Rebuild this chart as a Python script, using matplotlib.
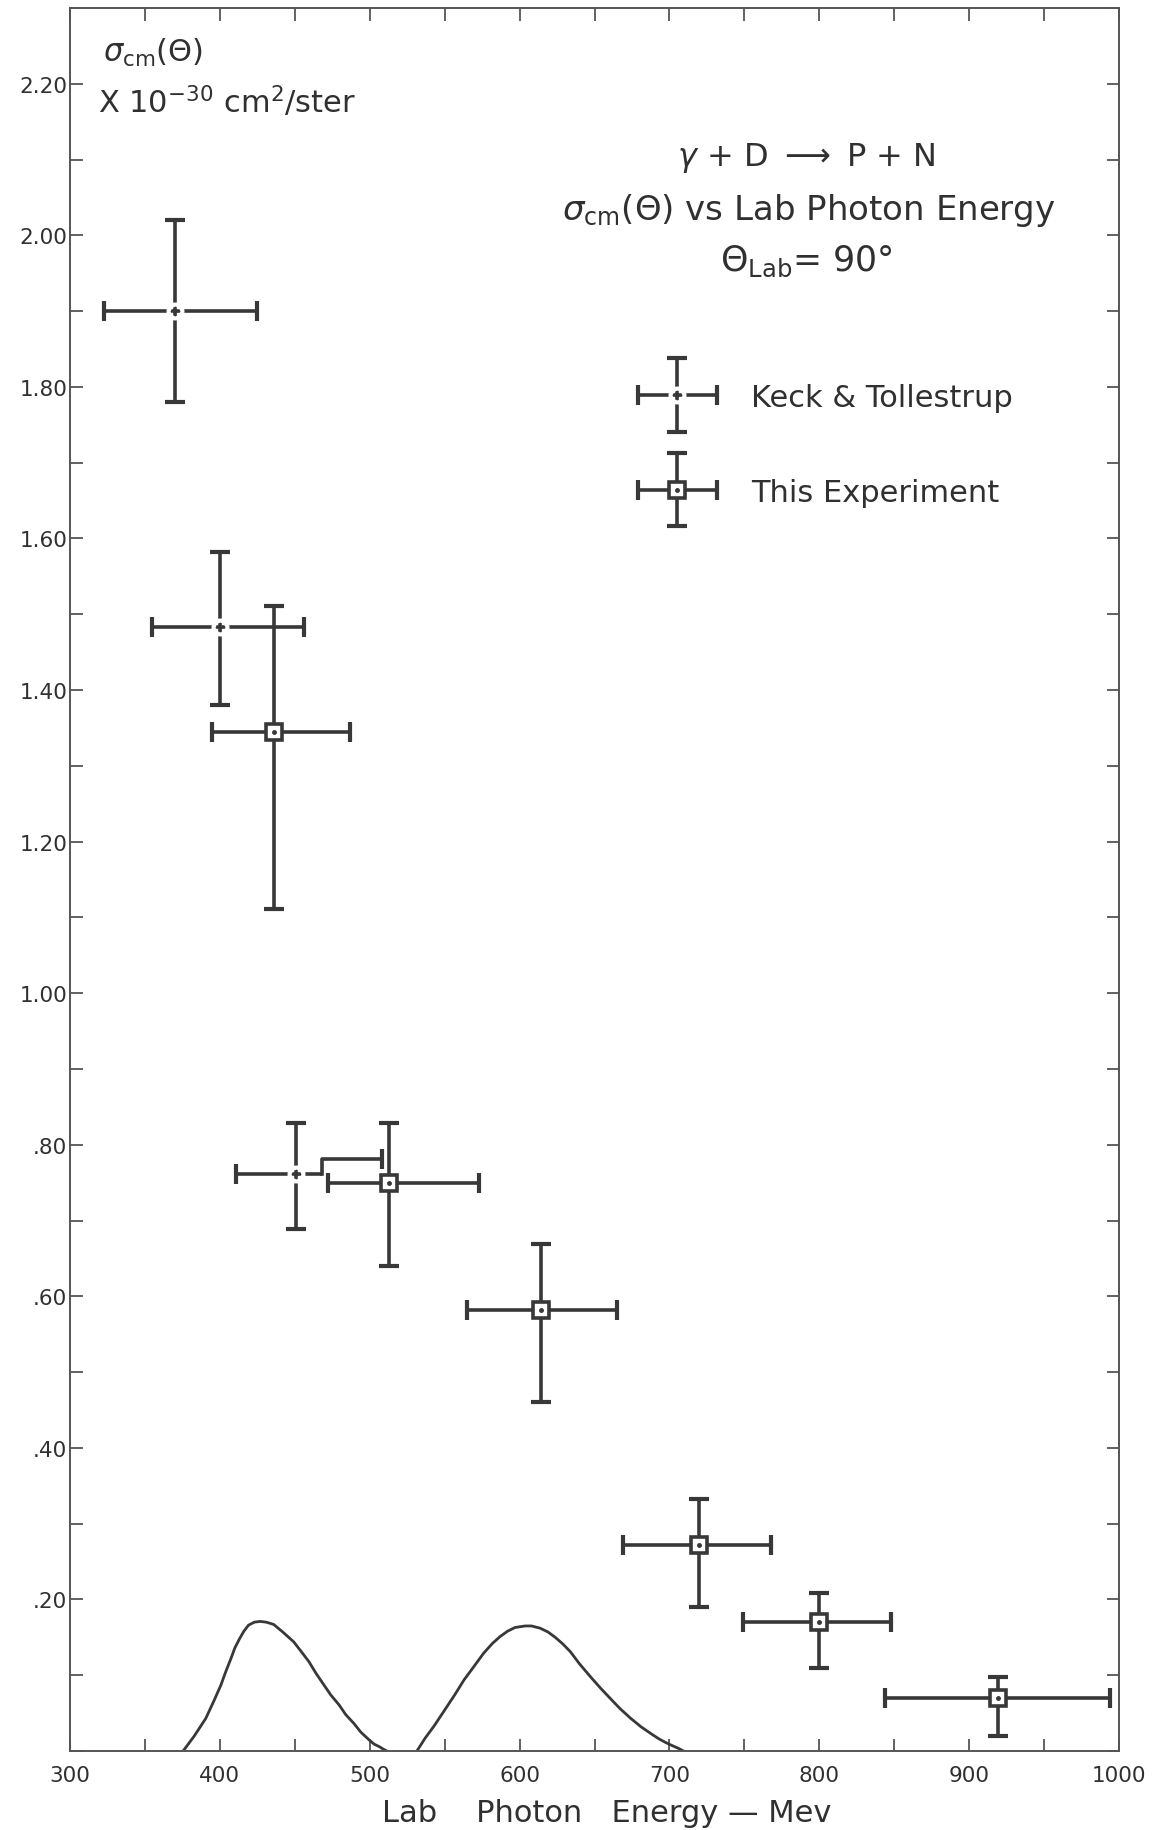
import numpy as np
import matplotlib.pyplot as plt
from matplotlib.ticker import MultipleLocator, FuncFormatter
from matplotlib.container import ErrorbarContainer
from matplotlib.legend_handler import HandlerErrorbar, HandlerTuple

plt.rcParams['font.family'] = ['DejaVu Sans']
plt.rcParams['mathtext.fontset'] = 'dejavusans'

# Keck & Tollestrup points (energy MeV, sigma)
keck_x = [370, 400, 451]
keck_y = [1.90, 1.483, 0.761]
keck_xlo = [323, 355, 411]
keck_xhi = [425, 456, 468]
keck_ylo = [1.78, 1.38, 0.689]
keck_yhi = [2.02, 1.582, 0.829]
# the odd stepped right arm of the third Keck point
keck_step_x = [468, 468, 508]
keck_step_y = [0.761, 0.781, 0.781]

# This experiment
this_x = [436, 513, 614, 720, 800, 919]
this_y = [1.344, 0.750, 0.582, 0.272, 0.170, 0.070]
this_xlo = [395, 472, 565, 669, 749, 844]
this_xhi = [487, 573, 665, 768, 848, 994]
this_ylo = [1.111, 0.640, 0.461, 0.190, 0.109, 0.020]
this_yhi = [1.511, 0.829, 0.669, 0.333, 0.208, 0.098]

# resolution curves
res1_x = [375.5, 383, 390.6, 396, 400.7, 404, 407.4, 410, 413.1, 416, 419.1, 423,
          426.8, 431, 435.9, 442, 449.3, 454, 459.4, 464, 469.5, 474, 479.5, 484,
          489.6, 494, 499.7, 503, 506.4, 509, 511.4]
res1_y = [0.0, 0.020, 0.043, 0.066, 0.087, 0.105, 0.122, 0.136, 0.148, 0.158, 0.166, 0.170,
          0.171, 0.170, 0.167, 0.157, 0.144, 0.132, 0.118, 0.103, 0.087, 0.074, 0.061, 0.048,
          0.036, 0.025, 0.0145, 0.009, 0.0057, 0.0025, 0.0]
res2_x = [531.5, 537, 543.3, 550, 556.7, 563, 570.1, 576, 581.9, 587, 591.9, 597,
          603.7, 608, 613.8, 619, 623.8, 629, 633.9, 640, 647.3, 654, 660.7, 667,
          674.2, 681, 687.6, 693, 697.7, 702, 706.0, 709.4]
res2_y = [0.0, 0.017, 0.034, 0.054, 0.074, 0.094, 0.113, 0.129, 0.142, 0.151, 0.158, 0.163,
          0.165, 0.165, 0.162, 0.157, 0.150, 0.141, 0.131, 0.115, 0.098, 0.083, 0.069, 0.056,
          0.043, 0.032, 0.023, 0.016, 0.011, 0.007, 0.0035, 0.0]

ink = '#383838'
txt = '#303030'

fig = plt.figure(figsize=(11.75, 18.31), dpi=100)
ax = fig.add_axes([70 / 1175, 1 - 1752 / 1831, 1049 / 1175, 1743 / 1831])

kx = np.array(keck_x); ky = np.array(keck_y)
k_xerr = np.array([kx - np.array(keck_xlo), np.array(keck_xhi) - kx])
k_yerr = np.array([ky - np.array(keck_ylo), np.array(keck_yhi) - ky])
tx = np.array(this_x); ty = np.array(this_y)
t_xerr = np.array([tx - np.array(this_xlo), np.array(this_xhi) - tx])
t_yerr = np.array([ty - np.array(this_ylo), np.array(this_yhi) - ty])

eb_style = dict(ecolor=ink, elinewidth=2.6, capsize=7, capthick=3, color=ink)

# Keck: white ring around a dot gives the broken cross centre
eb_keck = ax.errorbar(kx[:2], ky[:2], xerr=k_xerr[:, :2], yerr=k_yerr[:, :2],
                      fmt='o', zorder=3, **eb_style)
eb_k3 = ax.errorbar(kx[2:], ky[2:], xerr=k_xerr[:, 2:], yerr=k_yerr[:, 2:],
                    fmt='o', zorder=3, **eb_style)
for eb in (eb_keck, eb_k3):
    eb[0].set_markersize(3)
    eb[0].set_markerfacecolor(ink)
    eb[0].set_markeredgecolor('white')
    eb[0].set_markeredgewidth(10)
eb_k3[1][1].set_visible(False)
ax.plot(keck_step_x, keck_step_y, color=ink, lw=2.6, zorder=2)
ax.plot(keck_step_x[-1:], keck_step_y[-1:], ls='none', marker='|', ms=14, mew=3, color=ink)

eb_this = ax.errorbar(tx, ty, xerr=t_xerr, yerr=t_yerr, fmt='s', zorder=3, **eb_style)
eb_this[0].set_markersize(11.5)
eb_this[0].set_markerfacecolor('white')
eb_this[0].set_markeredgecolor(ink)
eb_this[0].set_markeredgewidth(2.6)
dots, = ax.plot(tx, ty, ls='none', marker='o', ms=2.5, color=ink, zorder=5)

ax.plot(res1_x, res1_y, color=ink, lw=2.0)
ax.plot(res2_x, res2_y, color=ink, lw=2.0)

ax.set_xlim(300, 1000)
ax.set_ylim(0, 2.30)
ax.xaxis.set_major_locator(MultipleLocator(50))
ax.yaxis.set_major_locator(MultipleLocator(0.1))


def xfmt(v, pos):
    return '%d' % round(v) if round(v) % 100 == 0 else ''


def yfmt(v, pos):
    k = int(round(v * 10))
    if k == 0 or k % 2:
        return ''
    s = '%.2f' % (k / 10)
    return s[1:] if k < 10 else s


ax.xaxis.set_major_formatter(FuncFormatter(xfmt))
ax.yaxis.set_major_formatter(FuncFormatter(yfmt))
ax.tick_params(direction='in', length=9, width=1.3, color='#555555', labelsize=15.5,
               top=True, right=True, labelcolor=txt)
ax.tick_params(axis='x', pad=10)
ax.tick_params(axis='y', pad=2)
for s in ax.spines.values():
    s.set_color('#555555')
    s.set_linewidth(1.4)

fig.text(0.5165, 0.0093, 'Lab    Photon   Energy — Mev', ha='center', va='center',
         fontsize=22, color=txt)

fig.text(0.0877, 0.9713, r'$\sigma_{\rm cm}(\Theta)$', ha='left', va='center',
         fontsize=22, color=txt)
fig.text(0.0834, 0.9445, r'X 10$^{-30}$ cm$^2$/ster', ha='left', va='center',
         fontsize=22, color=txt)

fig.text(0.686, 0.9139, r'$\gamma$ + D $\longrightarrow$ P + N', ha='center', va='center',
         fontsize=23, color=txt)
fig.text(0.688, 0.8852, r'$\sigma_{\rm cm}(\Theta)$ vs Lab Photon Energy', ha='center',
         va='center', fontsize=24.5, color=txt)
fig.text(0.686, 0.8571, r'$\Theta_{\rm Lab}$= 90°', ha='center', va='center',
         fontsize=25, color=txt)

leg = ax.legend([eb_keck, (eb_this, dots)], ['Keck & Tollestrup', 'This Experiment'],
                handler_map={ErrorbarContainer: HandlerErrorbar(xerr_size=1.3, yerr_size=1.2),
                             tuple: HandlerTuple(ndivide=1)},
                loc='center left', bbox_to_anchor=(0.5414, 0.7566),
                bbox_transform=fig.transFigure, frameon=False, fontsize=22,
                handlelength=2.7, handletextpad=1.05, labelspacing=2.15,
                borderpad=0, borderaxespad=0)
for t in leg.get_texts():
    t.set_color(txt)

fig.savefig('out.png', dpi=100, facecolor='white')
